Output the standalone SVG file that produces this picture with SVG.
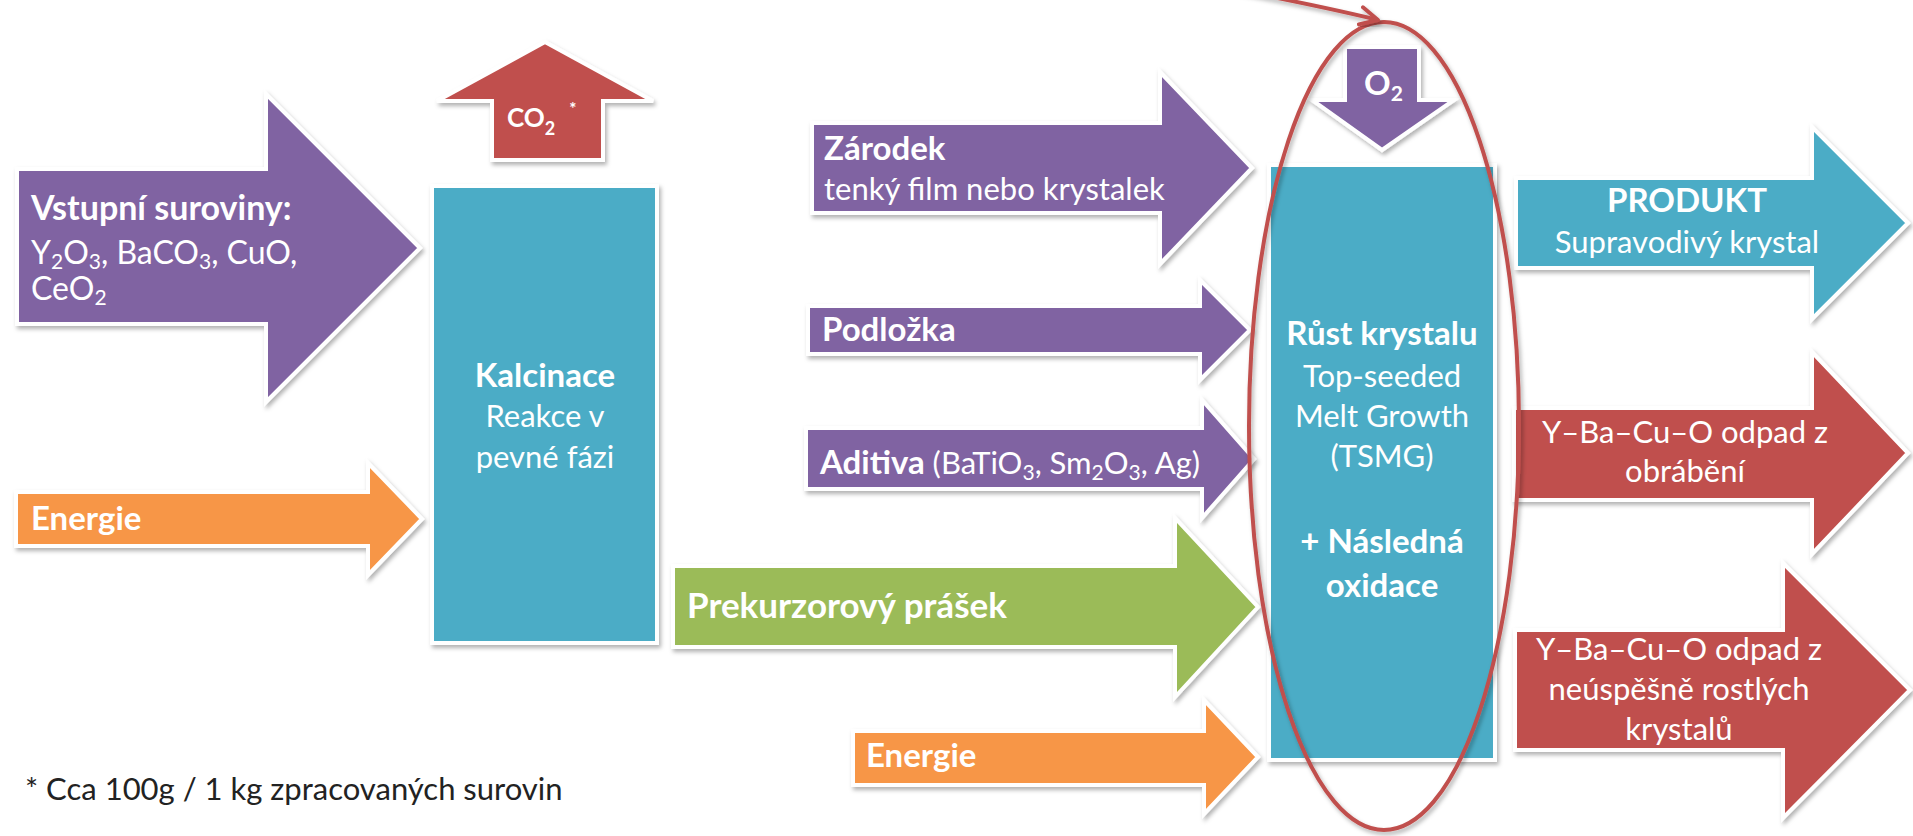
<svg xmlns="http://www.w3.org/2000/svg" width="1913" height="836" viewBox="0 0 1913 836">
<defs>
  <filter id="sh" x="-10%" y="-10%" width="125%" height="125%">
    <feDropShadow dx="2" dy="3" stdDeviation="2" flood-color="#000" flood-opacity="0.3"/>
  </filter>
  <marker id="vhead" viewBox="0 0 20 20" refX="18" refY="10" markerWidth="22" markerHeight="22" markerUnits="userSpaceOnUse" orient="auto">
    <path d="M2,2 L18,10 L2,18" fill="none" stroke="#C0504D" stroke-width="3.5" stroke-linecap="round" stroke-linejoin="round"/>
  </marker>
  <style>
    .shape { stroke: #ffffff; stroke-width: 4; stroke-linejoin: miter; filter: url(#sh); }
    .purple { fill: #8064A2; }
    .teal { fill: #4BACC6; }
    .red { fill: #C0504D; }
    .orange { fill: #F79646; }
    .green { fill: #9BBB59; }
    text { font-family: Lato, "Open Sans", "Liberation Sans", sans-serif; fill: #ffffff; }
    .b { font-weight: bold; font-size: 33px; }
    .r { font-size: 31px; }
    .bl { font-weight: bold; font-size: 35px; }
    .vl { font-weight: bold; font-size: 34px; }
    .rl { font-size: 32px; }
    .c { text-anchor: middle; }
    .sub { font-size: 21px; font-weight: normal; }
    .subl { font-size: 21px; }
    .note { font-size: 31px; fill: #222222; }
    .ring { fill: none; stroke: #C0504D; stroke-width: 4; filter: url(#sh); }
  </style>
</defs>
<rect x="0" y="0" width="1913" height="836" fill="#ffffff"/>

<g id="vstupni">
  <polygon class="shape purple" points="17,169 266,169 266,94 420,248 266,402 266,324 17,324"/>
  <text class="vl" x="31" y="220">Vstupní suroviny:</text>
  <text class="rl" x="31" y="264">Y<tspan class="subl" dy="5">2</tspan><tspan dy="-5">O</tspan><tspan class="subl" dy="5">3</tspan><tspan dy="-5">, BaCO</tspan><tspan class="subl" dy="5">3</tspan><tspan dy="-5">, CuO,</tspan></text>
  <text class="rl" x="31" y="300">CeO<tspan class="subl" dy="5">2</tspan></text>
</g>

<g id="energie1">
  <polygon class="shape orange" points="16,492 368,492 368,463 422,519 368,575 368,546 16,546"/>
  <text class="b" x="31" y="530">Energie</text>
</g>

<g id="co2">
  <polygon class="shape red" points="492,160 492,101 437,101 545,42 653,101 603,101 603,160"/>
  <text x="507" y="127" font-weight="bold" font-size="26">CO<tspan dy="8" font-size="18">2</tspan><tspan dy="-20" dx="14" font-size="17">*</tspan></text>
</g>

<g id="kalcinace">
  <rect class="shape teal" x="432" y="186" width="225" height="457"/>
  <text class="b c" x="545" y="387">Kalcinace</text>
  <text class="r c" x="545" y="427">Reakce v</text>
  <text class="r c" x="545" y="468">pevné fázi</text>
</g>

<g id="zarodek">
  <polygon class="shape purple" points="812,123 1160,123 1160,72 1252,168 1160,264 1160,213 812,213"/>
  <text class="b" x="824" y="160">Zárodek</text>
  <text class="r" x="824" y="200">tenký film nebo krystalek</text>
</g>

<g id="podlozka">
  <polygon class="shape purple" points="808,306 1200,306 1200,280 1250,330 1200,380 1200,354 808,354"/>
  <text class="b" x="822" y="341">Podložka</text>
</g>

<g id="aditiva">
  <polygon class="shape purple" points="806,428 1202,428 1202,400 1254,459 1202,518 1202,489 806,489"/>
  <text class="r" x="820" y="474"><tspan class="b">Aditiva</tspan> (BaTiO<tspan class="sub" dy="6">3</tspan><tspan dy="-6">, Sm</tspan><tspan class="sub" dy="6">2</tspan><tspan dy="-6">O</tspan><tspan class="sub" dy="6">3</tspan><tspan dy="-6">, Ag)</tspan></text>
</g>

<g id="prekurzor">
  <polygon class="shape green" points="673,566 1175,566 1175,518 1258,607 1175,697 1175,647 673,647"/>
  <text class="bl" x="687" y="618">Prekurzorový prášek</text>
</g>

<g id="energie2">
  <polygon class="shape orange" points="853,731 1204,731 1204,700 1258,757 1204,814 1204,785 853,785"/>
  <text class="b" x="866" y="767">Energie</text>
</g>

<g id="o2">
  <polygon class="shape purple" points="1345,47 1419,47 1419,100 1454,100 1382,150 1312,100 1345,100"/>
  <text class="b" x="1364" y="95">O<tspan dy="6" font-size="21">2</tspan></text>
</g>

<g id="rust">
  <rect class="shape teal" x="1269" y="165" width="226" height="595"/>
  <text class="b c" x="1382" y="345">Růst krystalu</text>
  <text class="r c" x="1382" y="387">Top-seeded</text>
  <text class="r c" x="1382" y="427">Melt Growth</text>
  <text class="r c" x="1382" y="467">(TSMG)</text>
  <text class="b c" x="1382" y="553">+ Následná</text>
  <text class="b c" x="1382" y="597">oxidace</text>
</g>

<g id="produkt">
  <polygon class="shape teal" points="1516,178 1812,178 1812,127 1908,223 1812,319 1812,268 1516,268"/>
  <text class="b c" x="1687" y="212">PRODUKT</text>
  <text class="r c" x="1687" y="253">Supravodivý krystal</text>
</g>

<g id="odpad1">
  <polygon class="shape red" points="1514,408 1812,408 1812,352 1908,453 1812,554 1812,500 1514,500"/>
  <text class="r c" x="1685" y="443">Y–Ba–Cu–O odpad z</text>
  <text class="r c" x="1685" y="482">obrábění</text>
</g>

<g id="odpad2">
  <polygon class="shape red" points="1515,630 1783,630 1783,563 1910,690 1783,818 1783,750 1515,750"/>
  <text class="r c" x="1679" y="660">Y–Ba–Cu–O odpad z</text>
  <text class="r c" x="1679" y="700">neúspěšně rostlých</text>
  <text class="r c" x="1679" y="740">krystalů</text>
</g>

<g id="connectors">
  <ellipse class="ring" cx="1384" cy="426" rx="135" ry="404"/>
  <path d="M1160,-24 Q1295,0 1378,20" fill="none" stroke="#C0504D" stroke-width="4" marker-end="url(#vhead)" filter="url(#sh)"/>
</g>

<g id="footnote">
  <text class="note" x="25" y="800">* Cca 100g / 1 kg zpracovaných surovin</text>
</g>
</svg>
